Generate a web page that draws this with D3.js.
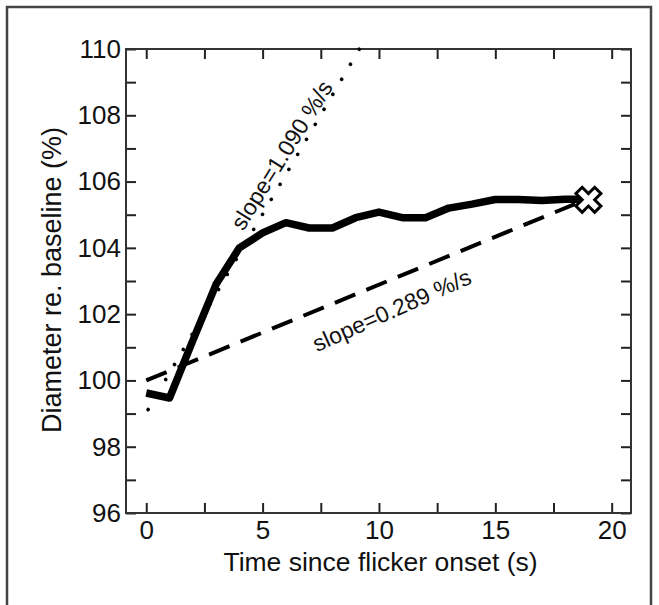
<!DOCTYPE html>
<html>
<head>
<meta charset="utf-8">
<script src="https://cdnjs.cloudflare.com/ajax/libs/d3/7.8.5/d3.min.js"></script>
<style>
  body { margin: 0; background: #fff; }
  text { font-family: "Liberation Sans", Arial, Helvetica, sans-serif; fill: #111; }
</style>
</head>
<body>
<svg width="659" height="605"></svg>
<script>
// measured pupil diameter, one point per second
const times = [0, 1, 2, 3, 4, 5, 6, 7, 8, 9, 10, 11, 12, 13, 14, 15, 16, 17, 18, 19]
const diameter = [99.62, 99.47, 101.2, 102.9, 104.0, 104.45, 104.76, 104.6, 104.6, 104.91,
                  105.08, 104.91, 104.91, 105.2, 105.32, 105.46, 105.46, 105.43, 105.47, 105.47]

// slope lines
const fitT = [0, 19]
const fitV = [100.0, 105.49]
const riseT = [0.08, 9.16]
const riseV = [99.12, 110]

// end point marker
const endT = 19
const endV = 105.45

const xTicks = [0, 2.5, 5, 7.5, 10, 12.5, 15, 17.5, 20]
const yTicks = [96, 97, 98, 99, 100, 101, 102, 103, 104, 105, 106, 107, 108, 109, 110]

const fastLabel = "slope=1.090 %/s"
const slowLabel = "slope=0.289 %/s"

let svg = d3.select("svg")

// outer frame of the figure
svg.append("rect")
  .attr("x", 7).attr("y", 7)
  .attr("width", 644).attr("height", 640)
  .attr("fill", "none")
  .attr("stroke", "#444")
  .attr("stroke-width", 2.5)

let pLeft = 126, pRight = 631, pTop = 49, pBottom = 513

let x = d3.scaleLinear().domain([-0.87, 20.83]).range([pLeft, pRight])
let y = d3.scaleLinear().domain([96, 110]).range([pBottom, pTop])

let g = svg.append("g")

// axes, ticks pointing inward on all four sides
g.append("g")
  .attr("transform", "translate(0," + pBottom + ")")
  .call(d3.axisBottom(x).tickValues(xTicks).tickSize(-10).tickPadding(8)
    .tickFormat(d => d % 5 == 0 ? d : ""))
g.append("g")
  .attr("transform", "translate(0," + pTop + ")")
  .call(d3.axisTop(x).tickValues(xTicks).tickSize(-10).tickFormat(""))
g.append("g")
  .attr("transform", "translate(" + pLeft + ",0)")
  .call(d3.axisLeft(y).tickValues(yTicks).tickSize(-10).tickPadding(5)
    .tickFormat(d => d % 2 == 0 ? d : ""))
g.append("g")
  .attr("transform", "translate(" + pRight + ",0)")
  .call(d3.axisRight(y).tickValues(yTicks).tickSize(-10).tickFormat(""))

g.selectAll(".domain").remove()
g.selectAll(".tick line").attr("stroke", "#222").attr("stroke-width", 2)
g.selectAll(".tick text").attr("font-size", "26px").attr("fill", "#111")
  .style("font-family", "'Liberation Sans', Arial, sans-serif")

g.append("rect")
  .attr("x", pLeft).attr("y", pTop)
  .attr("width", pRight - pLeft).attr("height", pBottom - pTop)
  .attr("fill", "none")
  .attr("stroke", "#333")
  .attr("stroke-width", 2)

// dotted steep slope
let line = d3.line().x(d => x(d[0])).y(d => y(d[1]))

g.append("path")
  .attr("d", line(d3.zip(riseT, riseV)))
  .attr("fill", "none")
  .attr("stroke", "#000")
  .attr("stroke-width", 3.6)
  .attr("stroke-linecap", "round")
  .attr("stroke-dasharray", "0.1 17.3")

// dashed shallow slope
g.append("path")
  .attr("d", line(d3.zip(fitT, fitV)))
  .attr("fill", "none")
  .attr("stroke", "#000")
  .attr("stroke-width", 4)
  .attr("stroke-dasharray", "22 12")

// data
g.append("path")
  .attr("d", line(d3.zip(times, diameter)))
  .attr("fill", "none")
  .attr("stroke", "#000")
  .attr("stroke-width", 7.5)
  .attr("stroke-linejoin", "round")

g.append("path")
  .attr("transform", "translate(" + x(endT) + "," + y(endV) + ") rotate(45)")
  .attr("d", d3.symbol().type(d3.symbolCross).size(390)())
  .attr("fill", "#fff")
  .attr("stroke", "#000")
  .attr("stroke-width", 3)

// slope annotations
g.append("text")
  .attr("transform", "translate(" + x(5.82) + "," + y(106.8) + ") rotate(-58)")
  .attr("text-anchor", "middle")
  .attr("dominant-baseline", "central")
  .attr("font-size", "23px")
  .text(fastLabel)

g.append("text")
  .attr("transform", "translate(" + x(10.55) + "," + y(102.12) + ") rotate(-24)")
  .attr("text-anchor", "middle")
  .attr("dominant-baseline", "central")
  .attr("font-size", "23px")
  .text(slowLabel)

// axis titles
svg.append("text")
  .attr("x", (pLeft + pRight) / 2 + 2)
  .attr("y", 562)
  .attr("text-anchor", "middle")
  .attr("dominant-baseline", "central")
  .attr("font-size", "26.5px")
  .text("Time since flicker onset (s)")

svg.append("text")
  .attr("transform", "translate(52,280) rotate(-90)")
  .attr("text-anchor", "middle")
  .attr("dominant-baseline", "central")
  .attr("font-size", "27px")
  .text("Diameter re. baseline (%)")
</script>
</body>
</html>
